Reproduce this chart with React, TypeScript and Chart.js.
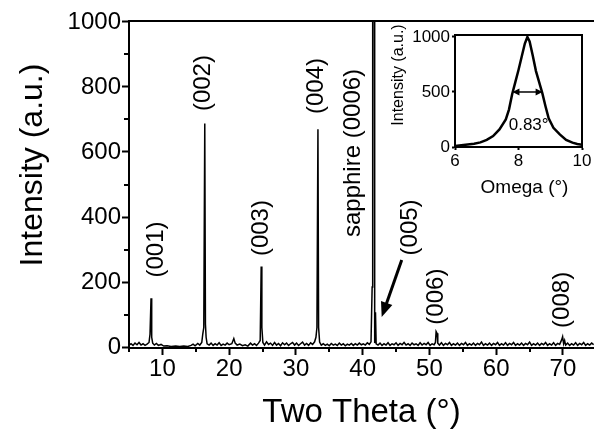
import React, { useEffect, useRef } from "react";
import { Chart, registerables } from "chart.js";
Chart.register(...registerables);

// ---- main XRD scan data ----
const twoTheta = [
  5.0, 5.3, 5.6, 5.9, 6.2, 6.5, 6.8, 7.1, 7.4, 7.7, 8.0, 8.15, 8.3, 8.4, 8.55, 8.8, 9.1, 9.4, 9.8,
  10.2, 10.7, 11.3, 12.0, 12.6, 13.2, 13.8, 14.3, 14.6, 14.9, 15.3, 15.6, 15.9, 16.05, 16.2, 16.35,
  16.45, 16.55, 16.7, 17.0, 17.3, 17.6, 17.9, 18.2, 18.5, 18.8, 19.1, 19.4, 19.7, 20.0, 20.4, 20.7,
  20.9, 21.2, 21.6, 22.0, 22.4, 22.8, 23.2, 23.5, 23.8, 24.1, 24.4, 24.65, 24.8, 24.9, 25.05, 25.3,
  25.6, 25.9, 26.2, 26.5, 26.8, 27.1, 27.4, 27.7, 28.0, 28.3, 28.6, 28.9, 29.2, 29.5, 29.8, 30.1,
  30.4, 30.7, 31.0, 31.3, 31.6, 31.9, 32.2, 32.5, 32.8, 33.0, 33.15, 33.3, 33.4, 33.55, 33.8, 34.1,
  34.4, 34.7, 35.0, 35.3, 35.6, 35.9, 36.2, 36.5, 36.8, 37.1, 37.4, 37.7, 38.0, 38.3, 38.6, 38.9,
  39.2, 39.5, 39.8, 40.1, 40.4, 40.7, 41.0, 41.25, 41.42, 41.5, 41.72, 41.8, 41.92, 42.02, 42.3,
  42.6, 42.9, 43.2, 43.5, 43.8, 44.1, 44.4, 44.7, 45.0, 45.3, 45.6, 45.9, 46.2, 46.5, 46.8, 47.1,
  47.4, 47.7, 48.0, 48.3, 48.6, 48.9, 49.2, 49.5, 49.8, 50.1, 50.4, 50.7, 50.9, 51.0, 51.15, 51.25,
  51.5, 51.8, 52.1, 52.4, 52.7, 53.0, 53.3, 53.6, 53.9, 54.2, 54.5, 54.8, 55.1, 55.4, 55.7, 56.0,
  56.3, 56.6, 56.9, 57.2, 57.5, 57.8, 58.1, 58.4, 58.7, 59.0, 59.3, 59.6, 59.9, 60.2, 60.5, 60.8,
  61.1, 61.4, 61.7, 62.0, 62.3, 62.6, 62.9, 63.2, 63.5, 63.8, 64.1, 64.4, 64.7, 65.0, 65.3, 65.6,
  65.9, 66.2, 66.5, 66.8, 67.1, 67.4, 67.7, 68.0, 68.3, 68.6, 68.9, 69.2, 69.5, 69.8, 69.95, 70.1,
  70.25, 70.4, 70.7, 71.0, 71.3, 71.6, 71.9, 72.2, 72.5, 72.8, 73.1, 73.4, 73.7, 74.0, 74.3, 74.6,
];
const intensity = [
  6, 10, 5, 12, 7, 14, 6, 10, 5, 9, 14, 40, 150, 30, 12, 6, 11, 5, 8,
  3, 4, 2, 3, 2, 3, 2, 5, 9, 4, 11, 6, 14, 40, 60, 688,
  70, 30, 10, 6, 12, 5, 10, 6, 13, 5, 9, 6, 12, 7, 10, 26,
  12, 6, 9, 4, 7, 3, 12, 6, 10, 5, 12, 20, 248, 60, 14, 6,
  16, 8, 12, 5, 14, 6, 11, 4, 13, 7, 12, 5, 10, 14, 6, 12,
  5, 10, 15, 6, 11, 5, 13, 8, 16, 30, 60, 670, 60, 15, 6, 10,
  5, 9, 4, 11, 6, 9, 5, 12, 6, 10, 4, 9, 6, 11, 5, 10,
  6, 12, 7, 10, 6, 13, 8, 16, 185, 1800, 1800, 12, 107, 10, 6,
  12, 5, 10, 6, 13, 5, 10, 7, 13, 5, 11, 7, 14, 6, 10, 5,
  12, 7, 10, 5, 13, 6, 11, 7, 14, 5, 10, 7, 14, 48, 42, 12,
  6, 13, 5, 11, 7, 14, 5, 10, 6, 12, 5, 11, 7, 14, 5, 10,
  6, 12, 5, 11, 7, 15, 5, 10, 6, 12, 5, 11, 7, 14, 5, 10,
  6, 13, 5, 11, 7, 14, 5, 10, 6, 12, 5, 11, 7, 15, 5, 10,
  6, 12, 5, 11, 7, 14, 5, 10, 6, 13, 5, 11, 8, 22, 32, 10,
  20, 6, 12, 5, 10, 6, 13, 5, 11, 7, 14, 5, 10, 6, 12, 7,
];
const xTicks = [10, 20, 30, 40, 50, 60, 70];
const xMinorTicks = [5, 15, 25, 35, 45, 55, 65];
const yTicks = [0, 200, 400, 600, 800, 1000];
const yMinorTicks = [100, 300, 500, 700, 900];

// peak annotations (anchored in data units)
const peakLabels = ["(001)", "(002)", "(003)", "(004)", "sapphire (0006)", "(005)", "(006)", "(008)"];
const peakLabelX = [9.1, 16.1, 24.9, 33.1, 38.6, 47.2, 51.0, 69.85];
const peakLabelY = [300, 812, 366, 803, 597, 368, 155, 145];
const arrowFrom = { x: 45.85, y: 268 };
const arrowTo = { x: 42.85, y: 92 };

// ---- inset rocking curve ----
const omega = [
  6.0, 6.2, 6.4, 6.6, 6.8, 7.0, 7.2, 7.4, 7.6, 7.7, 7.8, 7.9, 8.0, 8.1, 8.2, 8.28,
  8.35, 8.45, 8.55, 8.65, 8.75, 8.85, 8.95, 9.1, 9.3, 9.5, 9.7, 9.85, 10.0,
];
const omegaIntensity = [
  8, 15, 22, 30, 42, 65, 100, 160, 250, 340, 480, 590, 700, 820, 940, 1000,
  960, 830, 690, 590, 490, 370, 260, 175, 115, 65, 40, 28, 20,
];
const insetXTicks = [6, 8, 10];
const insetYTicks = [0, 500, 1000];
const fwhmFrom = 7.81;
const fwhmTo = 8.76;
const fwhmLevel = 500;
const fwhmText = "0.83°";

const FONT = "'Liberation Sans', Arial, Helvetica, sans-serif";

function arrowHead(ctx: CanvasRenderingContext2D, x1: number, y1: number, x2: number, y2: number, len: number, half: number) {
  const a = Math.atan2(y2 - y1, x2 - x1);
  ctx.beginPath();
  ctx.moveTo(x2, y2);
  ctx.lineTo(x2 - len * Math.cos(a) + half * Math.sin(a), y2 - len * Math.sin(a) - half * Math.cos(a));
  ctx.lineTo(x2 - len * Math.cos(a) - half * Math.sin(a), y2 - len * Math.sin(a) + half * Math.cos(a));
  ctx.closePath();
  ctx.fill();
}

const mainDecor = {
  id: "mainDecor",
  afterDraw(chart: any) {
    const { ctx, chartArea } = chart;
    const xs = chart.scales.x;
    const ys = chart.scales.y;
    ctx.save();
    ctx.strokeStyle = "#000";
    ctx.fillStyle = "#000";
    // top frame
    ctx.lineWidth = 2;
    ctx.beginPath();
    ctx.moveTo(chartArea.left - 1, chartArea.top);
    ctx.lineTo(chartArea.right, chartArea.top);
    ctx.stroke();
    // minor ticks
    ctx.beginPath();
    xMinorTicks.forEach((v) => {
      const p = Math.round(xs.getPixelForValue(v));
      ctx.moveTo(p, chartArea.bottom);
      ctx.lineTo(p, chartArea.bottom + 4);
    });
    yMinorTicks.forEach((v) => {
      const p = Math.round(ys.getPixelForValue(v));
      ctx.moveTo(chartArea.left - 5, p);
      ctx.lineTo(chartArea.left, p);
    });
    ctx.stroke();
    // peak labels
    ctx.font = `24px ${FONT}`;
    ctx.textAlign = "center";
    ctx.textBaseline = "middle";
    peakLabels.forEach((t, i) => {
      ctx.save();
      ctx.translate(xs.getPixelForValue(peakLabelX[i]), ys.getPixelForValue(peakLabelY[i]));
      ctx.rotate(-Math.PI / 2);
      ctx.fillText(t, 0, 0);
      ctx.restore();
    });
    // arrow to (005)
    const ax1 = xs.getPixelForValue(arrowFrom.x);
    const ay1 = ys.getPixelForValue(arrowFrom.y);
    const ax2 = xs.getPixelForValue(arrowTo.x);
    const ay2 = ys.getPixelForValue(arrowTo.y);
    const a = Math.atan2(ay2 - ay1, ax2 - ax1);
    ctx.lineWidth = 3;
    ctx.beginPath();
    ctx.moveTo(ax1, ay1);
    ctx.lineTo(ax2 - 10 * Math.cos(a), ay2 - 10 * Math.sin(a));
    ctx.stroke();
    arrowHead(ctx, ax1, ay1, ax2, ay2, 15, 6);
    // y title
    ctx.font = `32px ${FONT}`;
    ctx.textBaseline = "alphabetic";
    ctx.save();
    ctx.translate(42, chartArea.top + 144);
    ctx.rotate(-Math.PI / 2);
    ctx.fillText("Intensity (a.u.)", 0, 0);
    ctx.restore();
    ctx.restore();
  },
};

const insetDecor = {
  id: "insetDecor",
  afterDraw(chart: any) {
    const { ctx, chartArea } = chart;
    const xs = chart.scales.x;
    const ys = chart.scales.y;
    ctx.save();
    ctx.strokeStyle = "#000";
    ctx.fillStyle = "#000";
    ctx.lineWidth = 2;
    ctx.beginPath();
    ctx.moveTo(chartArea.left - 1, chartArea.top);
    ctx.lineTo(chartArea.right, chartArea.top);
    ctx.lineTo(chartArea.right, chartArea.bottom + 1);
    ctx.stroke();
    // FWHM double arrow
    const x1 = xs.getPixelForValue(fwhmFrom);
    const x2 = xs.getPixelForValue(fwhmTo);
    const y = ys.getPixelForValue(fwhmLevel);
    ctx.lineWidth = 1.5;
    ctx.beginPath();
    ctx.moveTo(x1 + 5, y);
    ctx.lineTo(x2 - 5, y);
    ctx.stroke();
    arrowHead(ctx, x2, y, x1, y, 7, 3.5);
    arrowHead(ctx, x1, y, x2, y, 7, 3.5);
    ctx.font = `17px ${FONT}`;
    ctx.textAlign = "center";
    ctx.textBaseline = "middle";
    ctx.fillText(fwhmText, xs.getPixelForValue(8.32), ys.getPixelForValue(200));
    // titles
    ctx.font = `19px ${FONT}`;
    ctx.textBaseline = "alphabetic";
    ctx.fillText("Omega (°)", (chartArea.left + chartArea.right) / 2 + 6, chartArea.bottom + 46);
    ctx.font = `16px ${FONT}`;
    ctx.save();
    ctx.translate(13, chartArea.top + 40);
    ctx.rotate(-Math.PI / 2);
    ctx.fillText("Intensity (a.u.)", 0, 0);
    ctx.restore();
    ctx.restore();
  },
};

export default function App() {
  const mainRef = useRef<HTMLCanvasElement>(null);
  const insetRef = useRef<HTMLCanvasElement>(null);

  useEffect(() => {
    document.body.style.margin = "0";
    const axisCommon = (size: number, tickLen: number, pad: number) => ({
      ticks: { autoSkip: false, maxRotation: 0, padding: pad, color: "#000", font: { family: FONT, size }, callback: (v: any) => String(v) },
      grid: { drawOnChartArea: false, tickLength: tickLen, tickWidth: 2, color: "#000" },
      border: { display: true, width: 2, color: "#000" },
    });

    const main = new Chart(mainRef.current!, {
      type: "line",
      data: {
        datasets: [
          {
            data: twoTheta.map((x, i) => ({ x, y: intensity[i] })),
            borderColor: "#000",
            borderWidth: 1.5,
            pointRadius: 0,
            tension: 0,
            fill: false,
          },
        ],
      },
      options: {
        responsive: false,
        animation: false,
        devicePixelRatio: 1,
        layout: { padding: { top: 21, right: 0, left: 0, bottom: 0 } },
        plugins: { legend: { display: false }, tooltip: { enabled: false } },
        scales: {
          x: {
            type: "linear",
            min: 5,
            max: 74.65,
            afterBuildTicks: (s: any) => { s.ticks = xTicks.map((v) => ({ value: v })); },
            afterFit: (s: any) => { s.height = 92; },
            ...axisCommon(24, 7, 0),
            title: { display: true, text: "Two Theta (°)", color: "#000", font: { family: FONT, size: 33 }, padding: { top: 0, bottom: 7 } },
          },
          y: {
            type: "linear",
            min: -3,
            max: 1003,
            afterBuildTicks: (s: any) => { s.ticks = yTicks.map((v) => ({ value: v })); },
            afterFit: (s: any) => { s.width = 129; },
            ...axisCommon(24, 7, 1),
          },
        },
      } as any,
      plugins: [mainDecor],
    });

    const inset = new Chart(insetRef.current!, {
      type: "line",
      data: {
        datasets: [
          {
            data: omega.map((x, i) => ({ x, y: omegaIntensity[i] })),
            borderColor: "#000",
            borderWidth: 2.5,
            pointRadius: 0,
            tension: 0,
            fill: false,
          },
        ],
      },
      options: {
        responsive: false,
        animation: false,
        devicePixelRatio: 1,
        layout: { padding: { top: 23, right: 12, left: 0, bottom: 0 } },
        plugins: { legend: { display: false }, tooltip: { enabled: false } },
        scales: {
          x: {
            type: "linear",
            min: 6,
            max: 10,
            afterBuildTicks: (s: any) => { s.ticks = insetXTicks.map((v) => ({ value: v })); },
            afterFit: (s: any) => { s.height = 55; },
            ...axisCommon(17, 3, 1),
          },
          y: {
            type: "linear",
            min: 0,
            max: 1018,
            afterBuildTicks: (s: any) => { s.ticks = insetYTicks.map((v) => ({ value: v })); },
            afterFit: (s: any) => { s.width = 65; },
            ...axisCommon(17, 3, 2),
          },
        },
      } as any,
      plugins: [insetDecor],
    });

    return () => {
      main.destroy();
      inset.destroy();
    };
  }, []);

  return (
    <div style={{ position: "fixed", left: 0, top: 0, width: 594, height: 440, background: "#fff" }}>
      <canvas ref={mainRef} width={594} height={440} style={{ position: "absolute", left: 0, top: 0 }} />
      <canvas ref={insetRef} width={204} height={190} style={{ position: "absolute", left: 390, top: 12 }} />
    </div>
  );
}
